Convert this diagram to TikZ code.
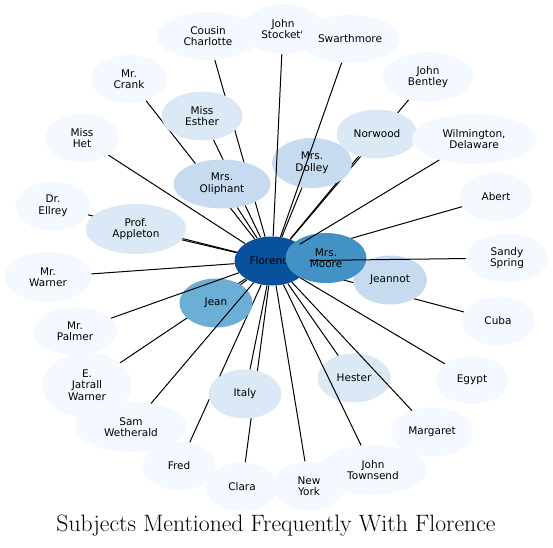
\documentclass[tikz,border=0pt]{standalone}
\usepackage{fontspec}
\newfontfamily\labelfont{DejaVu Sans}
\usepackage{tikz}
\usetikzlibrary{shapes.geometric, backgrounds}

\definecolor{blueDark}{HTML}{08519C}
\definecolor{blueMid}{HTML}{4292C6}
\definecolor{blueSoft}{HTML}{6BAED6}
\definecolor{blueLight}{HTML}{C6DBEF}
\definecolor{bluePale}{HTML}{DBE9F6}
\definecolor{blueFaint}{HTML}{F4F9FF}

\begin{document}
\begin{tikzpicture}[
  x=1pt, y=-1pt,
  subj/.style={ellipse, inner sep=0pt, align=center, minimum width=73pt, minimum height=49pt,
    font=\labelfont\fontsize{10.5}{11.5}\selectfont, fill=blueFaint},
  link/.style={black, line width=1pt},
]
  \useasboundingbox (0,0) rectangle (553,547);

  % centre and neighbours
  \node[subj,fill=blueDark,minimum width=75pt] (florence) at (272,261) {Florence};
  \node[subj,minimum width=102pt,minimum height=48pt] (charlotte) at (208,36) {Cousin\\Charlotte};
  \node[subj,minimum width=80pt,minimum height=50pt] (stockett) at (283,29) {John\\Stockett};
  \node[subj,minimum width=100pt,minimum height=48pt] (swarthmore) at (350,39) {Swarthmore};
  \node[subj,minimum width=76pt,minimum height=48pt] (crank) at (129,79) {Mr.\\Crank};
  \node[subj,minimum width=90pt,minimum height=50pt] (bentley) at (428,77) {John\\Bentley};
  \node[subj] (het) at (82,138) {Miss\\Het};
  \node[subj,minimum width=75pt] (ellrey) at (53,206) {Dr.\\Ellrey};
  \node[subj,minimum width=87pt,minimum height=50pt] (warner) at (48,277) {Mr.\\Warner};
  \node[subj,minimum width=84pt,minimum height=48pt] (palmer) at (75,331) {Mr.\\Palmer};
  \node[subj,minimum width=89pt,minimum height=65pt] (jatrall) at (87,385) {E.\\Jatrall\\Warner};
  \node[subj,minimum width=112pt,minimum height=50pt] (sam) at (131,427) {Sam\\Wetherald};
  \node[subj] (fred) at (179,466) {Fred};
  \node[subj,minimum width=72pt] (clara) at (242,487) {Clara};
  \node[subj,minimum width=72pt] (newyork) at (309,486) {New\\York};
  \node[subj,minimum width=108pt,minimum height=50pt] (townsend) at (373,470) {John\\Townsend};
  \node[subj,minimum width=82pt] (margaret) at (432,432) {Margaret};
  \node[subj,minimum height=48pt] (egypt) at (472,380) {Egypt};
  \node[subj] (cuba) at (498,321) {Cuba};
  \node[subj,minimum width=82pt] (sandy) at (507,258) {Sandy\\Spring};
  \node[subj] (abert) at (496,197) {Abert};
  \node[subj,fill=bluePale,minimum width=81pt] (norwood) at (377,134) {Norwood};
  \node[subj,minimum width=124pt,minimum height=50pt] (wilmington) at (474,139) {Wilmington,\\Delaware};
  \node[subj,fill=bluePale,minimum width=81pt] (esther) at (202,116) {Miss\\Esther};
  \node[subj,fill=bluePale,minimum width=101pt,minimum height=50pt] (appleton) at (136,229) {Prof.\\Appleton};
  \node[subj,fill=bluePale] (italy) at (245,394) {Italy};
  \node[subj,fill=bluePale] (hester) at (354,378) {Hester};
  \node[subj,fill=blueLight,minimum width=97pt] (oliphant) at (222,184) {Mrs.\\Oliphant};
  \node[subj,fill=blueLight,minimum width=80pt,minimum height=50pt] (dolley) at (312,163) {Mrs.\\Dolley};
  \node[subj,fill=blueLight,minimum width=74pt] (jeannot) at (390,280) {Jeannot};
  \node[subj,fill=blueSoft] (jean) at (216,303) {Jean};
  \node[subj,fill=blueMid,minimum width=81pt,minimum height=50pt] (moore) at (326,258) {Mrs.\\Moore};

  % links hidden under the nodes
  \begin{scope}[on background layer]
    \draw[link] (florence) -- (charlotte);
    \draw[link] (florence) -- (crank);
    \draw[link] (florence) -- (esther);
    \draw[link] (florence) -- (oliphant);
    \draw[link] (florence) -- (het);
    \draw[link] (florence) -- (appleton);
    \draw[link] (florence) -- (ellrey);
    \draw[link] (florence) -- (warner);
    \draw[link] (florence) -- (jatrall);
    \draw[link] (florence) -- (jean);
    \draw[link] (florence) -- (italy);
    \draw[link] (florence) -- (fred);
    \draw[link] (florence) -- (clara);
    \draw[link] (florence) -- (newyork);
    \draw[link] (florence) -- (hester);
    \draw[link] (florence) -- (egypt);
    \draw[link] (florence) -- (cuba);
    \draw[link] (florence) -- (jeannot);
    \draw[link] (florence) -- (moore);
    \draw[link] (florence) -- (abert);
    \draw[link] (florence) -- (dolley);
    \draw[link] (florence) -- (norwood);
    \draw[link] (florence) -- (bentley);
  \end{scope}

  % links over the nodes
  \draw[link] (florence) -- (stockett);
  \draw[link] (florence) -- (swarthmore);
  \draw[link] (florence) -- (wilmington);
  \draw[link] (florence) -- (sandy);
  \draw[link] (florence) -- (sam);
  \draw[link] (florence) -- (palmer);
  \draw[link] (florence) -- (townsend);
  \draw[link] (florence) -- (margaret);

  \node[font=\fontsize{23.7}{28}\selectfont, anchor=base] (title) at (276,531) {Subjects Mentioned Frequently With Florence};
\end{tikzpicture}
\end{document}
